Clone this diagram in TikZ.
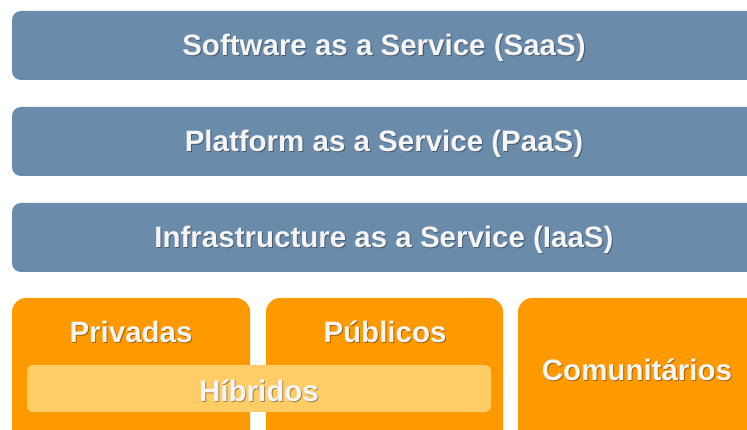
\documentclass[tikz,border=0pt]{standalone}
\usepackage{fontspec}
\setmainfont{Liberation Sans}
\begin{document}
\begin{tikzpicture}[x=1pt,y=-1pt,
  bluebar/.style={fill=barblue,rounded corners=9pt},
  orangebox/.style={fill=boxorange,rounded corners=14pt},
  lbl/.style={font=\fontsize{29.5}{32}\selectfont\bfseries,text=white!96!black},
  shd/.style={font=\fontsize{29.5}{32}\selectfont\bfseries,text=black,opacity=0.35}]
\definecolor{barblue}{HTML}{6A8BAA}
\definecolor{boxorange}{HTML}{FF9900}
\definecolor{hyb}{HTML}{FFCC66}
\useasboundingbox (0,0) rectangle (747,430);
\begin{scope}
\clip (0,0) rectangle (747,430);
\fill[bluebar] (12,11) rectangle (770,80);
\fill[bluebar] (12,107) rectangle (770,176);
\fill[bluebar] (12,203) rectangle (770,272);
\fill[orangebox] (12,298) rectangle (250,450);
\fill[orangebox] (266,298) rectangle (503,450);
\fill[orangebox] (518,298) rectangle (770,450);
\fill[hyb,rounded corners=6pt] (27,365) rectangle (491,412);
\end{scope}
\foreach \n/\x/\y/\t in {saas/384/46/{Software as a Service (SaaS)},
  paas/384/142/{Platform as a Service (PaaS)},
  iaas/384/238/{Infrastructure as a Service (IaaS)},
  priv/131/330/{Privadas},
  pub/385/330/{Públicos},
  com/637/368/{Comunitários},
  hib/259/389/{Híbridos}}{
  \node[shd] at (\x+1,\y+3) {\t};
  \node[lbl] (\n) at (\x,\y+1.5) {\t};
}
\end{tikzpicture}
\end{document}
